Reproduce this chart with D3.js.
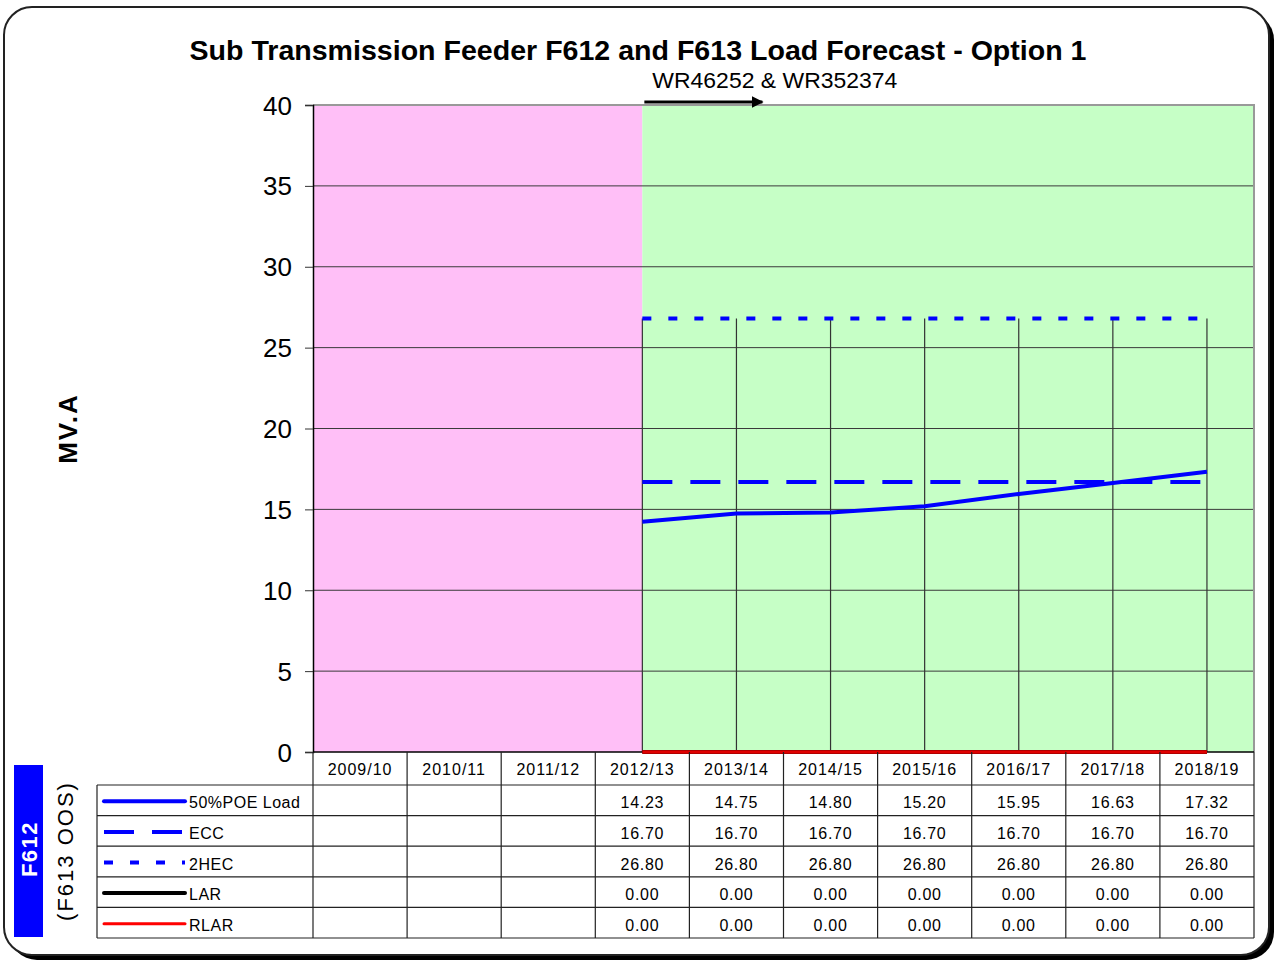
<!DOCTYPE html>
<html>
<head>
<meta charset="utf-8">
<script src="https://cdn.jsdelivr.net/npm/d3@7"></script>
<style>
  body { margin: 0; background: #fff; }
  text { font-family: "Liberation Sans", Arial, sans-serif; }
</style>
</head>
<body>
<svg id="Vis1" width="1276" height="962"></svg>
<script>
// chart values
let categories = ["2009/10", "2010/11", "2011/12", "2012/13", "2013/14",
  "2014/15", "2015/16", "2016/17", "2017/18", "2018/19"];

let poeLoad = [null, null, null, 14.23, 14.75, 14.80, 15.20, 15.95, 16.63, 17.32];
let ecc = [null, null, null, 16.70, 16.70, 16.70, 16.70, 16.70, 16.70, 16.70];
let hec = [null, null, null, 26.80, 26.80, 26.80, 26.80, 26.80, 26.80, 26.80];
let lar = [null, null, null, 0, 0, 0, 0, 0, 0, 0];
let rlar = [null, null, null, 0, 0, 0, 0, 0, 0, 0];

let yTicks = [0, 5, 10, 15, 20, 25, 30, 35, 40];

// shaded periods: pink before the works, green after (by category centre)
let periodEdges = ["2009/10", "2012/13"];

let series = [
  { name: "50%POE Load", values: poeLoad, color: "#0000ff", dash: null, width: 4 },
  { name: "ECC", values: ecc, color: "#0000ff", dash: "30,18", width: 4 },
  { name: "2HEC", values: hec, color: "#0000ff", dash: "9,17", width: 4 },
  { name: "LAR", values: lar, color: "#000000", dash: null, width: 4 },
  { name: "RLAR", values: rlar, color: "#ff0000", dash: null, width: 3 }
];

let drawChart = function() {
  let svg = d3.select("body").select("svg#Vis1");

  const margin = { top: 105, left: 313, right: 22, bottom: 210 };
  const plotLeft = margin.left;
  const plotRight = 1276 - margin.right;
  const plotTop = margin.top;
  const plotBottom = 962 - margin.bottom;

  // frame with shadow
  svg.append("rect")
    .attr("x", 9).attr("y", 12)
    .attr("width", 1265).attr("height", 948)
    .attr("rx", 28).attr("ry", 28)
    .attr("fill", "#000");
  svg.append("rect")
    .attr("x", 4).attr("y", 7)
    .attr("width", 1265).attr("height", 948)
    .attr("rx", 28).attr("ry", 28)
    .attr("fill", "#fff")
    .attr("stroke", "#222")
    .attr("stroke-width", 2);

  let xScale = d3.scaleBand()
    .domain(categories)
    .range([plotLeft, plotRight]);

  let yScale = d3.scaleLinear()
    .domain([0, 40])
    .range([plotBottom, plotTop]);

  let cx = function(c) { return xScale(c) + xScale.bandwidth() / 2; };

  const plot = svg.append("g").attr("id", "plot");

  // background periods
  let splitX = cx(periodEdges[1]);
  plot.append("rect")
    .attr("x", plotLeft).attr("y", plotTop)
    .attr("width", splitX - plotLeft).attr("height", plotBottom - plotTop)
    .attr("fill", "#ffbff7");
  plot.append("rect")
    .attr("x", splitX).attr("y", plotTop)
    .attr("width", plotRight - splitX).attr("height", plotBottom - plotTop)
    .attr("fill", "#c6ffc6");

  // gridlines
  plot.append("g").selectAll("line")
    .data(yTicks.filter(d => d > 0 && d < 40))
    .join("line")
    .attr("x1", plotLeft).attr("x2", plotRight)
    .attr("y1", d => yScale(d)).attr("y2", d => yScale(d))
    .attr("stroke", "#3a3a3a")
    .attr("stroke-width", 1);

  // plot border (top / right)
  plot.append("path")
    .attr("d", "M" + plotLeft + "," + plotTop + "H" + plotRight + "V" + plotBottom)
    .attr("fill", "none")
    .attr("stroke", "#999")
    .attr("stroke-width", 2);

  // drop lines from the highest series down to the axis
  let dropData = categories.map(function(c, i) {
    let vals = series.map(s => s.values[i]).filter(v => v !== null);
    return { cat: c, max: vals.length ? d3.max(vals) : null };
  }).filter(d => d.max !== null);

  plot.append("g").selectAll("line")
    .data(dropData)
    .join("line")
    .attr("x1", d => cx(d.cat)).attr("x2", d => cx(d.cat))
    .attr("y1", d => yScale(d.max)).attr("y2", plotBottom)
    .attr("stroke", "#333")
    .attr("stroke-width", 1.2);

  // series lines
  series.forEach(function(s) {
    let pts = categories.map((c, i) => ({ cat: c, v: s.values[i] }));
    let line = d3.line()
      .defined(d => d.v !== null)
      .x(d => cx(d.cat))
      .y(d => yScale(d.v));
    plot.append("path")
      .datum(pts)
      .attr("d", line)
      .attr("fill", "none")
      .attr("stroke", s.color)
      .attr("stroke-width", s.width)
      .attr("stroke-dasharray", s.dash);
  });

  // y axis
  let yAxis = d3.axisLeft(yScale).tickValues(yTicks).tickSize(8).tickPadding(13);
  let yGroup = plot.append("g").attr("id", "y-axis")
    .attr("transform", translate(plotLeft, 0))
    .call(yAxis);
  yGroup.select(".domain").attr("stroke", "#000").attr("stroke-width", 1.5);
  yGroup.selectAll(".tick line").attr("stroke", "#333");
  yGroup.selectAll("text")
    .attr("font-size", 26)
    .attr("font-family", "Liberation Sans, Arial, sans-serif")
    .attr("fill", "#000")
    .attr("dy", "0.35em");

  // x axis line
  plot.append("line")
    .attr("x1", plotLeft).attr("x2", plotRight)
    .attr("y1", plotBottom).attr("y2", plotBottom)
    .attr("stroke", "#000").attr("stroke-width", 1.5);

  // red RLAR redraw on top of axis
  let rlarPts = categories.map((c, i) => ({ cat: c, v: rlar[i] }));
  plot.append("path")
    .datum(rlarPts)
    .attr("d", d3.line().defined(d => d.v !== null).x(d => cx(d.cat)).y(d => yScale(d.v)))
    .attr("fill", "none")
    .attr("stroke", "#e00000")
    .attr("stroke-width", 3);

  // data table
  const tableLeft = 97;
  const tableBottom = 938;
  const headerBottom = 785;
  let rowScale = d3.scaleBand()
    .domain(series.map(s => s.name))
    .range([headerBottom, tableBottom]);

  const table = svg.append("g").attr("id", "table");

  // horizontal rules
  let rowNames = series.map(s => s.name);
  table.selectAll("line.hrule")
    .data(rowNames.concat(["end"]))
    .join("line")
    .attr("class", "hrule")
    .attr("x1", tableLeft).attr("x2", plotRight)
    .attr("y1", d => d === "end" ? tableBottom : rowScale(d))
    .attr("y2", d => d === "end" ? tableBottom : rowScale(d))
    .attr("stroke", "#222").attr("stroke-width", 1.2);

  // vertical rules
  let colEdges = categories.map(c => xScale(c)).concat([plotRight]);
  table.selectAll("line.vrule")
    .data(colEdges)
    .join("line")
    .attr("class", "vrule")
    .attr("x1", d => d).attr("x2", d => d)
    .attr("y1", plotBottom).attr("y2", tableBottom)
    .attr("stroke", "#222").attr("stroke-width", 1.2);
  table.append("line")
    .attr("x1", tableLeft).attr("x2", tableLeft)
    .attr("y1", headerBottom).attr("y2", tableBottom)
    .attr("stroke", "#222").attr("stroke-width", 1.2);

  // header labels
  table.selectAll("text.head")
    .data(categories)
    .join("text")
    .attr("class", "head")
    .attr("x", d => cx(d))
    .attr("y", (plotBottom + headerBottom) / 2 + 6)
    .attr("text-anchor", "middle")
    .attr("font-size", 16)
    .attr("letter-spacing", 1)
    .text(d => d);

  // values and legend keys
  series.forEach(function(s) {
    let yMid = rowScale(s.name) + rowScale.bandwidth() / 2;
    table.append("line")
      .attr("x1", 104).attr("x2", 185)
      .attr("y1", yMid + 1).attr("y2", yMid + 1)
      .attr("stroke", s.color)
      .attr("stroke-width", s.width)
      .attr("stroke-linecap", s.dash ? "butt" : "round")
      .attr("stroke-dasharray", s.dash);
    table.append("text")
      .attr("x", 189).attr("y", yMid + 8)
      .attr("font-size", 16)
      .attr("letter-spacing", 0.5)
      .text(s.name);
    table.selectAll(null)
      .data(categories.map((c, i) => ({ cat: c, v: s.values[i] })).filter(d => d.v !== null))
      .join("text")
      .attr("x", d => cx(d.cat))
      .attr("y", yMid + 8)
      .attr("text-anchor", "middle")
      .attr("font-size", 16)
      .attr("letter-spacing", 0.7)
      .text(d => d.v.toFixed(2));
  });

  // title
  svg.append("text")
    .attr("x", 638).attr("y", 60)
    .attr("text-anchor", "middle")
    .attr("font-size", 28)
    .attr("font-weight", "bold")
    .attr("textLength", 897)
    .attr("lengthAdjust", "spacingAndGlyphs")
    .text("Sub Transmission Feeder F612 and F613 Load Forecast - Option 1");

  // annotation with arrow
  svg.append("defs").append("marker")
    .attr("id", "arrowhead")
    .attr("viewBox", "0 0 10 10")
    .attr("refX", 9).attr("refY", 5)
    .attr("markerWidth", 4).attr("markerHeight", 4)
    .attr("orient", "auto")
    .append("path")
    .attr("d", "M0,0L10,5L0,10z")
    .attr("fill", "#000");
  svg.append("text")
    .attr("x", splitX + 10).attr("y", 88)
    .attr("font-size", 22)
    .attr("textLength", 245)
    .attr("lengthAdjust", "spacingAndGlyphs")
    .text("WR46252 & WR352374");
  svg.append("line")
    .attr("x1", splitX + 2).attr("x2", splitX + 120)
    .attr("y1", 102).attr("y2", 102)
    .attr("stroke", "#000").attr("stroke-width", 3)
    .attr("marker-end", "url(#arrowhead)");

  // y axis title
  const yTitleGroup = svg.append("g").attr("transform", translate(68, midpoint(yScale.range())));
  yTitleGroup.append("text")
    .attr("transform", "rotate(-90)")
    .attr("text-anchor", "middle")
    .attr("dy", "0.35em")
    .attr("font-size", 26)
    .attr("font-weight", "bold")
    .attr("letter-spacing", 2)
    .text("MV.A");

  // feeder label box
  svg.append("rect")
    .attr("x", 14).attr("y", 765)
    .attr("width", 29).attr("height", 172)
    .attr("fill", "#0000ff");
  svg.append("g").attr("transform", translate(29, 849))
    .append("text")
    .attr("transform", "rotate(-90)")
    .attr("text-anchor", "middle")
    .attr("dy", "0.35em")
    .attr("font-size", 22)
    .attr("font-weight", "bold")
    .attr("letter-spacing", 1.5)
    .attr("fill", "#fff")
    .text("F612");
  svg.append("g").attr("transform", translate(65, 851))
    .append("text")
    .attr("transform", "rotate(-90)")
    .attr("text-anchor", "middle")
    .attr("dy", "0.35em")
    .attr("font-size", 22)
    .attr("letter-spacing", 2)
    .text("(F613 OOS)");
};

drawChart();

function midpoint(range) {
  return range[0] + (range[1] - range[0]) / 2.0;
}

function translate(x, y) {
  return "translate(" + String(x) + "," + String(y) + ")";
}
</script>
</body>
</html>
